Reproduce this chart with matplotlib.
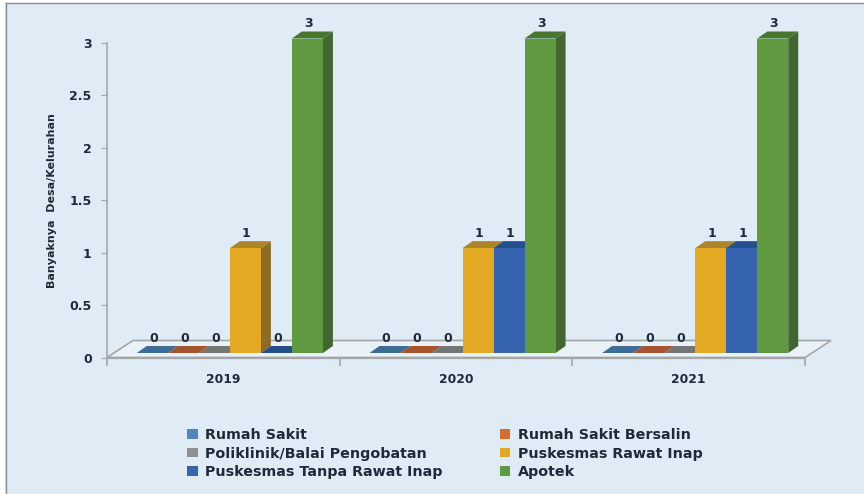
import matplotlib
matplotlib.use("Agg")
import matplotlib.pyplot as plt
from matplotlib.patches import Polygon, Patch, Rectangle

plt.rcParams['font.family'] = ['DejaVu Sans']

years = ['2019', '2020', '2021']
series = ['Rumah Sakit', 'Rumah Sakit Bersalin', 'Poliklinik/Balai Pengobatan',
          'Puskesmas Rawat Inap', 'Puskesmas Tanpa Rawat Inap', 'Apotek']
rumah_sakit = [0, 0, 0]
rs_bersalin = [0, 0, 0]
poliklinik = [0, 0, 0]
rawat_inap = [1, 1, 1]
tanpa_rawat_inap = [0, 1, 1]
apotek = [3, 3, 3]
values = [rumah_sakit, rs_bersalin, poliklinik, rawat_inap, tanpa_rawat_inap, apotek]
yticks = [0, 0.5, 1, 1.5, 2, 2.5, 3]
ytick_labels = ['0', '0.5', '1', '1.5', '2', '2.5', '3']

front = ['#4F87BD', '#D86E27', '#8F8F8F', '#E3A922', '#3764AE', '#5F9A41']
side = ['#3B6D98', '#A6552A', '#757575', '#8C6B25', '#234F8C', '#42662F']
top = ['#3B6D98', '#A6552A', '#757575', '#A9852B', '#234F8C', '#487531']
bg = '#DFECF6'
grey = '#A6A6A6'
txt = '#1F2A38'

W, H = 864, 494
fig = plt.figure(figsize=(W / 100, H / 100), dpi=100, facecolor=bg)
# y=0 bei Pixel 357.5, y=3 bei Pixel 43
ax = fig.add_axes([107 / W, 1 - 357.5 / H, 698 / W, 314.5 / H])
ax.set_xlim(0, 3)
ax.set_ylim(0, 3)
ax.patch.set_alpha(0)

to_disp = ax.transData
inv = ax.transData.inverted()


def shift(x, y, dx, dy):
    # Datenpunkt um Pixel verschieben
    d = to_disp.transform((x, y))
    return inv.transform((d[0] + dx, d[1] + dy))


# Boden
floor_dx, floor_dy = 26, 17
floor = Polygon([(0, 0), (3, 0), shift(3, 0, floor_dx, floor_dy), shift(0, 0, floor_dx, floor_dy)],
                closed=True, facecolor='#EAF2F9', edgecolor=grey, lw=1.2, clip_on=False, zorder=1)
ax.add_patch(floor)
ax.plot([0, 3], [0, 0], color=grey, lw=1.6, clip_on=False, zorder=1.5)

# Saeulen
bar_w = 0.8 / 6
off_x, off_y = 6.5, 4.5
depth_x, depth_y = 10, 7
z = 2
for i, vals in enumerate(values):
    for g, v in enumerate(vals):
        x0 = g + 0.1 + i * bar_w
        x1 = x0 + bar_w
        p00 = shift(x0, 0, off_x, off_y)
        p10 = shift(x1, 0, off_x, off_y)
        p0v = shift(x0, v, off_x, off_y)
        p1v = shift(x1, v, off_x, off_y)
        back = lambda p: shift(p[0], p[1], depth_x, depth_y)
        if v > 0:
            ax.add_patch(Polygon([p10, back(p10), back(p1v), p1v], closed=True, facecolor=side[i],
                                 edgecolor='none', clip_on=False, zorder=z))
            ax.bar(p00[0], p0v[1] - p00[1], width=p10[0] - p00[0], bottom=p00[1], align='edge',
                   color=front[i], edgecolor='none', clip_on=False, zorder=z + 0.2)
        ax.add_patch(Polygon([p0v, p1v, back(p1v), back(p0v)], closed=True, facecolor=top[i],
                             edgecolor='none', clip_on=False, zorder=z + 0.1))
        lx, ly = shift((x0 + x1) / 2, v, off_x + 1, off_y + 15)
        ax.text(lx, ly, str(v), ha='center', va='center', fontsize=9, fontweight='bold',
                color=txt, zorder=100, clip_on=False)
        z += 1

for s in ['top', 'right', 'bottom']:
    ax.spines[s].set_visible(False)
ax.spines['left'].set_color(grey)
ax.spines['left'].set_linewidth(1.2)

ax.set_yticks(yticks)
ax.set_yticklabels(ytick_labels, fontsize=9, fontweight='bold', color=txt)
ax.tick_params(axis='y', length=4, color=grey, pad=7)
ax.set_xticks([0, 1, 2, 3])
ax.set_xticklabels([])
ax.tick_params(axis='x', length=6, width=1.2, color=grey)
for g, year in enumerate(years):
    ax.annotate(year, xy=(g + 0.5, 0), xytext=(0, -21.5 * 0.72), textcoords='offset points',
                ha='center', va='center', fontsize=8.8, fontweight='bold', color=txt,
                annotation_clip=False)

fig.text(52 / W, 1 - 201 / H, 'Banyaknya  Desa/Kelurahan', rotation=90, ha='center', va='center',
         fontsize=8, fontweight='bold', color=txt)

# Legende: spaltenweise gefuellt
order = [0, 2, 4, 1, 3, 5]
handles = [Patch(facecolor=front[i], label=series[i]) for i in order]
leg = fig.legend(handles=handles, ncol=2, loc='upper left', bbox_to_anchor=(183 / W, 1 - 424 / H),
                 frameon=False, fontsize=10.3, handlelength=0.72, handleheight=0.65, handletextpad=0.55,
                 columnspacing=4.0, labelspacing=0.3, borderpad=0.3, borderaxespad=0)
for t in leg.get_texts():
    t.set_fontweight('bold')
    t.set_color(txt)

# weisser Rand und Rahmenlinie oben/links
fig.add_artist(Rectangle((0, 1 - 3 / H), 1, 3 / H, transform=fig.transFigure, facecolor='white', edgecolor='none'))
fig.add_artist(Rectangle((0, 0), 5 / W, 1, transform=fig.transFigure, facecolor='white', edgecolor='none'))
fig.add_artist(plt.Line2D([5.5 / W, 1], [1 - 3.5 / H, 1 - 3.5 / H], transform=fig.transFigure, color='#8C8C8C', lw=1))
fig.add_artist(plt.Line2D([5.5 / W, 5.5 / W], [0, 1 - 3.5 / H], transform=fig.transFigure, color='#8C8C8C', lw=1))

fig.savefig('out.png', dpi=100, facecolor=bg)
